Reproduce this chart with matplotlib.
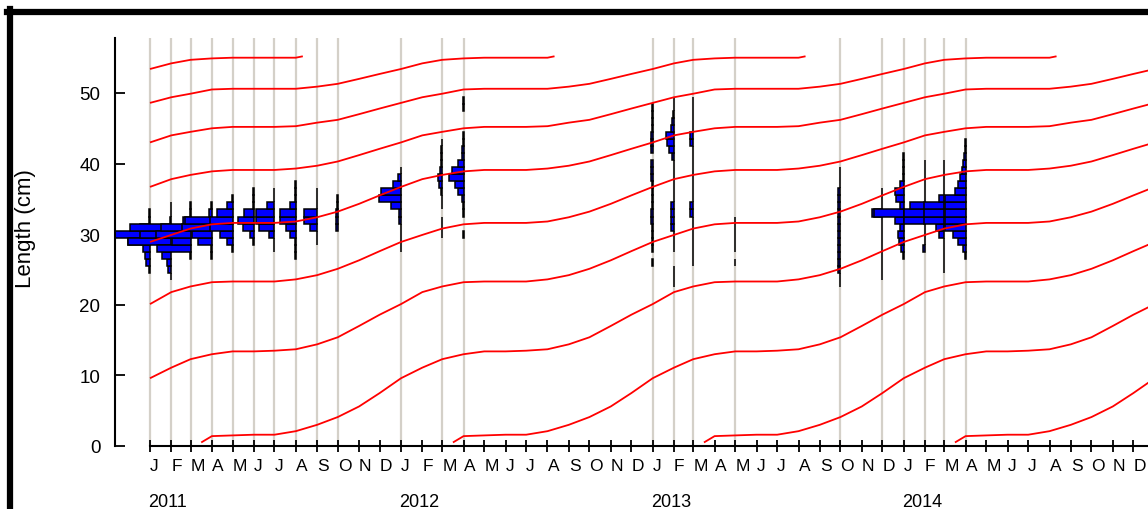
import datetime as dt
import matplotlib
matplotlib.use("Agg")
import matplotlib.pyplot as plt
import matplotlib.dates as mdates
from matplotlib.lines import Line2D
import calendar

plt.rcParams['font.family'] = ['Liberation Sans', 'DejaVu Sans']

# ---------------- data ----------------
MONTH_LETTERS = ["J", "F", "M", "A", "M", "J", "J", "A", "S", "O", "N", "D"]
YEARS = [2011, 2012, 2013, 2014]
Y_TICKS = [0, 10, 20, 30, 40, 50]

# sample dates (length-frequency samples)
SAMPLE_DATES = ["2011-01-01", "2011-02-01", "2011-03-01", "2011-04-01", "2011-05-01",
                "2011-06-01", "2011-07-01", "2011-08-01", "2011-09-01", "2011-10-01",
                "2012-01-01", "2012-03-01", "2012-04-01",
                "2013-01-01", "2013-02-01", "2013-03-01", "2013-05-01",
                "2013-10-01", "2013-12-01", "2014-01-01", "2014-02-01", "2014-03-01",
                "2014-04-01"]

# frequency bars per sample: {length class (cm): bar value}
F_2011_01 = {25: 1, 26: 4, 27: 5, 28: 7, 29: 22, 30: 35, 31: 10, 32: 0.5, 33: 0.5}
F_2011_02 = {24: 0.5, 25: 3, 26: 4, 27: 9, 28: 5, 29: 43, 30: 31, 31: 41, 32: 1, 33: 0.5, 34: 0.5}
F_2011_03 = {27: 0.5, 28: 34, 29: 19, 30: 35, 31: 30, 32: 8, 33: 1, 34: 0.5}
F_2011_04 = {27: 0.5, 28: 1, 29: 14, 30: 20, 31: 30, 32: 27, 33: 3, 34: 1}
F_2011_05 = {28: 0.5, 29: 6, 30: 12.7, 31: 22.7, 32: 22.7, 33: 16, 34: 6, 35: 0.5}
F_2011_06 = {29: 0.5, 30: 4, 31: 10.7, 32: 15.7, 33: 9.7, 34: 0.5, 35: 0.5, 36: 0.5}
F_2011_07 = {28: 0.5, 29: 0.5, 30: 5, 31: 15.7, 32: 18.3, 33: 18.3, 34: 7.7, 35: 0.5, 36: 0.5}
F_2011_08 = {27: 0.5, 28: 0.5, 29: 0.5, 30: 6, 31: 10, 32: 16, 33: 16, 34: 6, 35: 0.5, 36: 0.5, 37: 0.5}
F_2011_09 = {29: 0.5, 30: 0.5, 31: 6.7, 32: 12.7, 33: 12.7, 34: 0.5, 35: 0.5, 36: 0.5}
F_2011_10 = {31: 1.5, 32: 1.5, 33: 1.5, 34: 1, 35: 0.5}
F_2012_01 = {28: 0.5, 29: 0.5, 30: 0.5, 31: 0.5, 32: 2, 33: 2, 34: 10, 35: 22, 36: 20, 37: 8,
             38: 3, 39: 0.5}
F_2012_03 = {30: 0.5, 31: 0.5, 32: 0.5, 34: 0.5, 35: 0.5, 36: 1, 37: 3, 38: 4, 39: 2, 40: 1.5,
             41: 1.5, 42: 1, 43: 0.5}
F_2012_04 = {30: 0.5, 33: 0.5, 34: 1, 35: 2, 36: 5.7, 37: 9, 38: 14.7, 39: 12, 40: 5.7,
             41: 2, 42: 2, 43: 1, 44: 0.5, 48: 0.5, 49: 0.5}
F_2013_01 = {26: 0.5, 28: 0.5, 29: 0.5, 30: 0.5, 31: 0.5, 32: 2, 33: 2, 34: 0.5, 35: 0.5,
             36: 0.5, 37: 0.5, 38: 2, 39: 2, 40: 2, 42: 2, 43: 2, 44: 2, 45: 0.5, 46: 0.5,
             47: 0.5, 48: 0.5}
F_2013_02 = {23: 0.5, 24: 0.5, 25: 0.5, 28: 0.5, 29: 0.5, 30: 0.5, 31: 3, 32: 3, 33: 3, 34: 3,
             35: 0.5, 36: 0.5, 37: 0.5, 38: 0.5, 39: 0.5, 40: 0.5, 41: 2, 42: 5.3, 43: 6.7,
             44: 7.7, 45: 3.3, 46: 2.5, 47: 1.5, 48: 0.5, 49: 0.5}
F_2013_03 = {26: 0.5, 27: 0.5, 28: 0.5, 29: 0.5, 30: 0.5, 31: 0.5, 32: 0.5, 33: 3, 34: 3,
             35: 0.5, 36: 0.5, 37: 0.5, 38: 0.5, 39: 0.5, 40: 0.5, 41: 0.5, 42: 0.5, 43: 3,
             44: 3, 45: 0.5, 46: 0.5, 47: 0.5, 48: 0.5, 49: 0.5}
F_2013_05 = {26: 0.5, 28: 0.5, 29: 0.5, 30: 0.5, 31: 0.5, 32: 0.5}
F_2013_10 = {23: 0.5, 24: 0.5, 25: 2.5, 26: 2.5, 27: 2.5, 28: 2.5, 29: 2.5, 30: 2.5, 31: 2.5,
             32: 2.5, 33: 2.5, 34: 2.5, 35: 2.5, 36: 2.5, 37: 0.5, 38: 0.5, 39: 0.5}
F_2013_12 = {24: 0.5, 25: 0.5, 26: 0.5, 27: 0.5, 28: 0.5, 29: 0.5, 30: 0.5, 31: 0.5, 32: 0.5,
             33: 10, 34: 0.5, 35: 0.5, 36: 0.5}
F_2014_01 = {27: 0.5, 28: 3, 29: 5, 30: 6, 31: 3.3, 32: 9, 33: 30, 34: 3.3, 35: 7.7, 36: 8.3,
             37: 3.3, 38: 0.5, 39: 0.5, 40: 0.5, 41: 0.5}
F_2014_02 = {28: 2, 29: 0.5, 30: 0.5, 31: 0.5, 32: 21, 33: 21, 34: 15, 35: 0.5, 36: 0.5,
             37: 0.5, 38: 0.5, 39: 0.5, 40: 0.5}
F_2014_03 = {25: 0.5, 26: 0.5, 27: 0.5, 28: 0.5, 29: 0.5, 30: 5, 31: 8, 32: 20, 33: 20, 34: 20,
             35: 5, 36: 0.5, 37: 0.5, 38: 0.5, 39: 0.5, 40: 0.5}
F_2014_04 = {27: 0.5, 28: 2.3, 29: 7.3, 30: 13, 31: 21, 32: 21, 33: 21, 34: 21, 35: 21, 36: 11,
             37: 7.3, 38: 5.7, 39: 4, 40: 2.5, 41: 2, 42: 0.5, 43: 0.5}

SAMPLE_FREQS = [F_2011_01, F_2011_02, F_2011_03, F_2011_04, F_2011_05, F_2011_06, F_2011_07,
                F_2011_08, F_2011_09, F_2011_10, F_2012_01, F_2012_03, F_2012_04,
                F_2013_01, F_2013_02, F_2013_03, F_2013_05, F_2013_10, F_2013_12,
                F_2014_01, F_2014_02, F_2014_03, F_2014_04]

# growth curve (length at age), by age year and month
AGE0_MONTHS = [3.5, 4, 5, 6, 7, 8, 9, 10, 11, 12]
AGE0_LEN = [0.5, 1.4, 1.5, 1.6, 1.6, 2.1, 3.0, 4.1, 5.6, 7.5]
FULL_MONTHS = [1, 2, 3, 4, 5, 6, 7, 8, 9, 10, 11, 12]
AGE1_LEN = [9.6, 11.1, 12.3, 13.0, 13.4, 13.4, 13.5, 13.7, 14.4, 15.4, 17.0, 18.6]
AGE2_LEN = [20.1, 21.8, 22.6, 23.2, 23.3, 23.3, 23.3, 23.6, 24.2, 25.1, 26.3, 27.6]
AGE3_LEN = [28.9, 29.9, 30.8, 31.4, 31.6, 31.6, 31.6, 31.8, 32.4, 33.2, 34.3, 35.5]
AGE4_LEN = [36.7, 37.8, 38.4, 38.9, 39.1, 39.1, 39.1, 39.3, 39.7, 40.3, 41.2, 42.1]
AGE5_LEN = [43.0, 44.0, 44.5, 45.0, 45.2, 45.2, 45.2, 45.3, 45.8, 46.2, 47.0, 47.8]
AGE6_LEN = [48.6, 49.4, 49.9, 50.5, 50.6, 50.6, 50.6, 50.6, 50.9, 51.3, 52.0, 52.7]
AGE7_MONTHS = [1, 2, 3, 4, 5, 6, 7, 8, 8.33]
AGE7_LEN = [53.4, 54.2, 54.7, 54.9, 55.0, 55.0, 55.0, 55.0, 55.2]
COHORT_YEARS = list(range(2004, 2015))

# ---------------- styling / layout ----------------
W, H, DPI = 1148, 510, 100
PX_PER_DAY = 0.6877
BAR_DAYS_PER_UNIT = 1.0 / PX_PER_DAY
GRAY = "#d4d0c8"

fig = plt.figure(figsize=(W / DPI, H / DPI), dpi=DPI)
ax_left, ax_right, ax_top, ax_bot = 115, 1148, 39, 447
ax = fig.add_axes([ax_left / W, (H - ax_bot) / H, (ax_right - ax_left) / W, (ax_bot - ax_top) / H])

d0 = mdates.date2num(dt.datetime(2011, 1, 1))
xmin = d0 - (150 - ax_left) / PX_PER_DAY
xmax = d0 + (ax_right - 150) / PX_PER_DAY
ax.set_xlim(xmin, xmax)
ax.set_ylim(0, (ax_bot - ax_top) / 7.06)


def month_to_num(year, m):
    mi = int(m)
    frac = m - mi
    ndays = calendar.monthrange(year, mi)[1]
    return mdates.date2num(dt.datetime(year, mi, 1)) + frac * ndays


# sample lines
for s in SAMPLE_DATES:
    x = mdates.date2num(dt.datetime.strptime(s, "%Y-%m-%d"))
    ax.axvline(x, color=GRAY, lw=1.6, zorder=1)

# histograms (bars extend to the left of each sample date)
for s, freq in zip(SAMPLE_DATES, SAMPLE_FREQS):
    x = mdates.date2num(dt.datetime.strptime(s, "%Y-%m-%d"))
    ls = list(freq.keys())
    vs = [-freq[k] * BAR_DAYS_PER_UNIT for k in ls]
    ax.barh(ls, vs, left=x, height=1.0, color="#0000ff", edgecolor="black",
            linewidth=1.1, zorder=2)

# growth curves
age_tables = [(AGE0_MONTHS, AGE0_LEN), (FULL_MONTHS, AGE1_LEN), (FULL_MONTHS, AGE2_LEN),
              (FULL_MONTHS, AGE3_LEN), (FULL_MONTHS, AGE4_LEN), (FULL_MONTHS, AGE5_LEN),
              (FULL_MONTHS, AGE6_LEN), (AGE7_MONTHS, AGE7_LEN)]
for by in COHORT_YEARS:
    xs, ys = [], []
    for age, (months, lens) in enumerate(age_tables):
        yr = by + age
        for m, L in zip(months, lens):
            xn = month_to_num(yr, m)
            if xn >= d0:
                xs.append(xn)
                ys.append(L)
    if xs:
        ax.plot(xs, ys, color="#ff0000", lw=1.3, zorder=3, solid_capstyle="butt")

# axes styling
for sp in ["top", "right"]:
    ax.spines[sp].set_visible(False)
ax.spines["left"].set_linewidth(1.5)
ax.spines["bottom"].set_linewidth(1.5)
ax.spines["bottom"].set_bounds(d0, xmax)

ax.set_yticks(Y_TICKS)
ax.set_yticklabels([str(v) for v in Y_TICKS], fontsize=13.5)
ax.tick_params(axis="y", direction="in", length=7.2, width=1.3, pad=10.5)

month_ticks, month_labels = [], []
for y in YEARS:
    for i, lab in enumerate(MONTH_LETTERS):
        month_ticks.append(mdates.date2num(dt.datetime(y, i + 1, 1)))
        month_labels.append(lab)
ax.set_xticks(month_ticks)
ax.set_xticklabels(month_labels, fontsize=12.5, ha="left")
ax.tick_params(axis="x", direction="inout", length=8, width=1.3, pad=4.5)

for y in YEARS:
    ax.text(mdates.date2num(dt.datetime(y, 1, 1)) - 3, -0.135, str(y),
            transform=ax.get_xaxis_transform(), ha="left", va="center", fontsize=13)

fig.text(25 / W, 1 - 229 / H, "Length (cm)", rotation=90, ha="center", va="center",
         fontsize=16)

# figure frame (top and left edges visible)
fig.add_artist(Line2D([7 / W, 1.0], [1 - 13 / H, 1 - 13 / H], transform=fig.transFigure,
                      color="black", lw=4.5))
fig.add_artist(Line2D([10 / W, 10 / W], [0, 1 - 10 / H], transform=fig.transFigure,
                      color="black", lw=4.5))

fig.savefig("out.png", dpi=DPI)
